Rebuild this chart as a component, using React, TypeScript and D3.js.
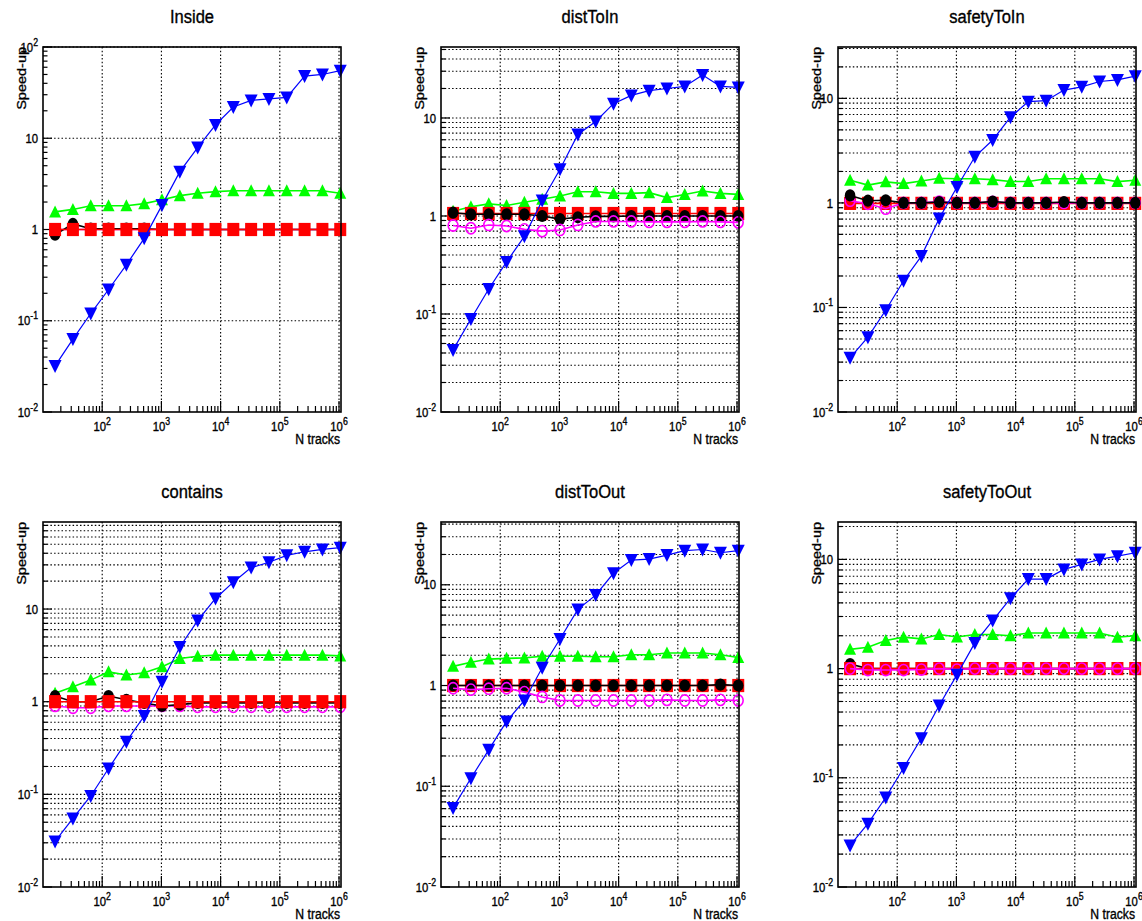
import React, { useEffect, useRef } from "react";
import * as d3 from "d3";

// x values: number of tracks
const nTracks = [16, 32, 64, 128, 256, 512, 1024, 2048, 4096, 8192, 16384, 32768, 65536, 131072, 262144, 524288, 1048576];

const panelNames = ["Inside", "distToIn", "safetyToIn", "contains", "distToOut", "safetyToOut"];
const panelYMax = [100, 53, 31, 87, 42, 22];
const panelMinorGrid = [false, true, true, true, true, true];

const xTickValues = [100, 1000, 10000, 100000, 1000000];
const xTickExps = ["2", "3", "4", "5", "6"];
const yTickValues = [0.01, 0.1, 1, 10, 100];
const yTickBases = ["10", "10", "1", "10", "10"];
const yTickExps = ["-2", "-1", "", "", "2"];

// Inside
const insideBlue = [0.032, 0.063, 0.12, 0.22, 0.41, 0.8, 1.85, 4.3, 7.9, 14, 22, 26, 27, 28, 48, 50, 55];
const insideGreen = [1.56, 1.66, 1.82, 1.82, 1.82, 1.92, 2.12, 2.35, 2.5, 2.6, 2.66, 2.66, 2.66, 2.66, 2.66, 2.66, 2.5];
const insideRed = [1, 1, 1, 1, 1, 1, 1, 1, 1, 1, 1, 1, 1, 1, 1, 1, 1];
const insideBlack = [0.88, 1.15, 1.02, 1.02, 1.02, 1.02, 1, 1, 1, 1, 1, 1, 1, 1, 1, 1, 1];
const insideMagenta = [1, 1, 1, 1, 1, 1, 1, 1, 1, 1, 1, 1, 1, 1, 1, 1, 1];

// distToIn
const distInBlue = [0.043, 0.089, 0.18, 0.34, 0.62, 1.44, 3.0, 6.8, 9.2, 14, 17, 19, 20, 21, 27.5, 21, 20.5];
const distInGreen = [1.12, 1.24, 1.33, 1.28, 1.38, 1.48, 1.6, 1.77, 1.77, 1.7, 1.7, 1.73, 1.54, 1.66, 1.8, 1.7, 1.66];
const distInRed = [1.06, 1.06, 1.06, 1.06, 1.06, 1.06, 1.06, 1.06, 1.06, 1.06, 1.06, 1.06, 1.06, 1.06, 1.06, 1.06, 1.06];
const distInBlack = [1.08, 1.04, 1.04, 1.04, 1.04, 1.0, 0.93, 0.97, 0.99, 0.99, 1.0, 1.0, 1.0, 1.0, 1.0, 1.0, 1.0];
const distInMagenta = [0.8, 0.75, 0.81, 0.79, 0.73, 0.7, 0.72, 0.81, 0.88, 0.88, 0.88, 0.87, 0.87, 0.87, 0.88, 0.87, 0.86];

// safetyToIn
const safeInBlue = [0.033, 0.052, 0.094, 0.18, 0.31, 0.71, 1.42, 2.76, 4.0, 6.6, 9.3, 9.5, 12, 12.9, 14.5, 15, 16.3];
const safeInGreen = [1.65, 1.48, 1.59, 1.53, 1.62, 1.72, 1.7, 1.7, 1.67, 1.6, 1.6, 1.7, 1.7, 1.7, 1.7, 1.6, 1.65];
const safeInRed = [0.99, 0.99, 0.99, 0.99, 0.99, 0.99, 0.99, 0.99, 0.99, 0.99, 0.99, 0.99, 0.99, 0.99, 0.99, 0.99, 0.99];
const safeInBlack = [1.18, 1.05, 1.06, 1.0, 1.0, 1.02, 1.0, 1.0, 1.03, 1.0, 1.0, 1.0, 1.02, 1.0, 1.0, 1.0, 1.0];
const safeInMagenta = [1.05, 0.98, 0.88, 1.0, 1.0, 1.03, 1.0, 1.0, 1.02, 1.0, 1.0, 1.0, 1.0, 1.0, 1.0, 1.0, 1.0];

// contains
const containsBlue = [0.031, 0.055, 0.096, 0.19, 0.37, 0.7, 1.64, 3.9, 7.5, 13, 19.5, 28, 32, 38, 41.5, 44, 46];
const containsGreen = [1.23, 1.45, 1.71, 2.1, 1.94, 2.05, 2.38, 2.93, 3.1, 3.18, 3.18, 3.18, 3.18, 3.18, 3.18, 3.18, 3.12];
const containsRed = [1, 1, 1, 1, 1, 1, 1, 1, 1, 1, 1, 1, 1, 1, 1, 1, 1];
const containsBlack = [1.15, 1.0, 1.0, 1.15, 1.05, 0.97, 0.9, 0.93, 0.97, 0.97, 0.97, 0.97, 0.97, 0.97, 0.97, 0.97, 0.97];
const containsMagenta = [0.9, 0.86, 0.86, 0.9, 0.9, 0.9, 0.9, 0.9, 0.88, 0.88, 0.88, 0.88, 0.88, 0.88, 0.88, 0.88, 0.88];

// distToOut
const distOutBlue = [0.061, 0.12, 0.23, 0.44, 0.71, 1.5, 2.9, 5.7, 7.9, 13, 17.6, 18, 19.7, 21.8, 22.4, 20.8, 21.8];
const distOutGreen = [1.55, 1.7, 1.83, 1.86, 1.88, 1.95, 1.95, 1.95, 1.93, 1.93, 2.02, 2.02, 2.1, 2.1, 2.1, 2.02, 1.9];
const distOutRed = [1, 1, 1, 1, 1, 1, 1, 1, 1, 1, 1, 1, 1, 1, 1, 1, 1];
const distOutBlack = [1, 1, 1, 1, 1, 1, 1, 1, 1, 1, 1, 1, 1, 1, 1, 1.02, 1];
const distOutMagenta = [0.94, 0.91, 0.93, 0.94, 0.86, 0.77, 0.71, 0.71, 0.71, 0.71, 0.71, 0.71, 0.72, 0.71, 0.71, 0.72, 0.71];

// safetyToOut
const safeOutBlue = [0.024, 0.038, 0.066, 0.123, 0.23, 0.46, 0.88, 1.72, 2.75, 4.4, 6.6, 6.6, 8.1, 9.0, 10, 10.7, 11.5];
const safeOutGreen = [1.5, 1.57, 1.81, 1.94, 1.87, 2.05, 1.95, 2.05, 2.05, 2.0, 2.12, 2.12, 2.12, 2.12, 2.12, 1.94, 2.0];
const safeOutRed = [1, 1, 1, 1, 1, 1, 1, 1, 1, 1, 1, 1, 1, 1, 1, 1, 1];
const safeOutBlack = [1.1, 1, 1, 1, 1, 1, 1, 1, 1, 1, 1, 1, 1, 1, 1, 1, 1];
const safeOutMagenta = [1.0, 0.97, 0.97, 0.97, 0.98, 1.0, 0.98, 1.0, 1.0, 1.0, 1.0, 1.0, 1.0, 1.0, 1.0, 1.0, 1.0];

const panelSeries = [
  { blue: insideBlue, green: insideGreen, red: insideRed, black: insideBlack, magenta: insideMagenta },
  { blue: distInBlue, green: distInGreen, red: distInRed, black: distInBlack, magenta: distInMagenta },
  { blue: safeInBlue, green: safeInGreen, red: safeInRed, black: safeInBlack, magenta: safeInMagenta },
  { blue: containsBlue, green: containsGreen, red: containsRed, black: containsBlack, magenta: containsMagenta },
  { blue: distOutBlue, green: distOutGreen, red: distOutRed, black: distOutBlack, magenta: distOutMagenta },
  { blue: safeOutBlue, green: safeOutGreen, red: safeOutRed, black: safeOutBlack, magenta: safeOutMagenta },
];

// order in which the graphs were drawn (last one on top)
const drawOrders = [
  ["green", "magenta", "black", "red", "blue"],
  ["green", "red", "black", "magenta", "blue"],
  ["green", "red", "magenta", "black", "blue"],
  ["green", "magenta", "black", "red", "blue"],
  ["green", "red", "black", "magenta", "blue"],
  ["green", "black", "red", "magenta", "blue"],
];

const styles: any = {
  blue: { color: "#0000ff", marker: "tdown", lw: 1.2 },
  green: { color: "#00ff00", marker: "tup", lw: 1.6 },
  red: { color: "#ff0000", marker: "square", lw: 1.6 },
  black: { color: "#000000", marker: "circle", lw: 1.6 },
  magenta: { color: "#ff00ff", marker: "ocircle", lw: 1.6 },
};

const W = 1142, H = 921;
const colLeft = [43, 441, 838];
const frameW = 298;
const rowTop = [47, 522];
const frameH = 365;
const SX = 0.87; // horizontal squeeze of the original picture
const FONT = "'Liberation Sans', Arial, Helvetica, sans-serif";

function App() {
  const ref = useRef<SVGSVGElement>(null);

  useEffect(() => {
    const svg = d3.select(ref.current);
    svg.selectAll("*").remove();
    svg.append("rect").attr("width", W).attr("height", H).attr("fill", "#fff");

    panelNames.forEach((name, p) => {
      const x0 = colLeft[p % 3];
      const y0 = rowTop[Math.floor(p / 3)];
      const x1 = x0 + frameW;
      const y1 = y0 + frameH;
      const g = svg.append("g");

      const x = d3.scaleLog().domain([10, 1.08e6]).range([x0, x1]);
      const y = d3.scaleLog().domain([0.01, panelYMax[p]]).range([y1, y0]);

      // minor/major tick values
      const yMinor: number[] = [];
      const yMajor: number[] = [];
      for (let e = -2; e <= 2; e++) {
        for (let m = 1; m <= 9; m++) {
          const v = m * Math.pow(10, e);
          if (v > panelYMax[p] * 1.0001) continue;
          if (m === 1) yMajor.push(v);
          else yMinor.push(v);
        }
      }
      const xMinor: number[] = [];
      for (let e = 1; e <= 5; e++) {
        for (let m = 2; m <= 9; m++) xMinor.push(m * Math.pow(10, e));
      }

      // grid
      const grid = g.append("g").attr("stroke", "#000").attr("stroke-width", 1.1).attr("stroke-dasharray", "1.5,2.2");
      xTickValues.forEach((v) => {
        grid.append("line").attr("x1", x(v)).attr("x2", x(v)).attr("y1", y0).attr("y2", y1);
      });
      const yGridVals = panelMinorGrid[p] ? yMajor.concat(yMinor) : yMajor;
      yGridVals.forEach((v) => {
        if (v <= 0.01) return;
        grid.append("line").attr("x1", x0).attr("x2", x1).attr("y1", y(v)).attr("y2", y(v));
      });

      // ticks
      const ticks = g.append("g").attr("stroke", "#000").attr("stroke-width", 1.2);
      yMajor.forEach((v) => ticks.append("line").attr("x1", x0).attr("x2", x0 + 9).attr("y1", y(v)).attr("y2", y(v)));
      yMinor.forEach((v) => ticks.append("line").attr("x1", x0).attr("x2", x0 + 4.5).attr("y1", y(v)).attr("y2", y(v)));
      xTickValues.forEach((v) => ticks.append("line").attr("x1", x(v)).attr("x2", x(v)).attr("y1", y1).attr("y2", y1 - 11));
      xMinor.forEach((v) => ticks.append("line").attr("x1", x(v)).attr("x2", x(v)).attr("y1", y1).attr("y2", y1 - 6));

      // series
      const sd = panelSeries[p] as any;
      drawOrders[p].forEach((key) => {
        const st = styles[key];
        const vals: number[] = sd[key];
        const pts = nTracks.map((n, i) => [x(n), y(vals[i])] as [number, number]);
        g.append("path")
          .attr("d", d3.line()(pts))
          .attr("fill", "none")
          .attr("stroke", st.color)
          .attr("stroke-width", st.lw);
        const mk = g.append("g");
        pts.forEach(([px, py]) => {
          if (st.marker === "tdown") {
            mk.append("path").attr("d", `M${px - 6.5},${py - 6}L${px + 6.5},${py - 6}L${px},${py + 7}Z`).attr("fill", st.color);
          } else if (st.marker === "tup") {
            mk.append("path").attr("d", `M${px - 6},${py + 5.5}L${px + 6},${py + 5.5}L${px},${py - 6.5}Z`).attr("fill", st.color);
          } else if (st.marker === "square") {
            mk.append("rect").attr("x", px - 6).attr("y", py - 6.6).attr("width", 12).attr("height", 13.2).attr("fill", st.color);
          } else if (st.marker === "circle") {
            mk.append("ellipse").attr("cx", px).attr("cy", py).attr("rx", 5.3).attr("ry", 6.1).attr("fill", st.color);
          } else {
            mk.append("ellipse").attr("cx", px).attr("cy", py).attr("rx", 4.9).attr("ry", 5.6)
              .attr("fill", "none").attr("stroke", st.color).attr("stroke-width", 1.6);
          }
        });
      });

      // frame
      g.append("rect").attr("x", x0).attr("y", y0).attr("width", frameW).attr("height", frameH)
        .attr("fill", "none").attr("stroke", "#000").attr("stroke-width", 1.6);

      // labels
      const txt = (tx: number, ty: number, anchor: string, size: number, rot = 0) =>
        g.append("text")
          .attr("transform", `translate(${tx},${ty}) scale(${SX},1)` + (rot ? ` rotate(${rot})` : ""))
          .attr("text-anchor", anchor)
          .attr("font-family", FONT)
          .attr("font-size", size)
          .attr("fill", "#000")
          .attr("stroke", "#000")
          .attr("stroke-width", 0.35);

      txt((x0 + x1) / 2, y0 - 24, "middle", 19).text(name);
      txt(x1 - 1, y1 + 31.5, "end", 14).text("N tracks");
      txt(x0 - 17, y0, "end", 14.5, -90).text("Speed-up");

      xTickValues.forEach((v, i) => {
        const t = txt(x(v), y1 + 19, "middle", 13);
        t.append("tspan").text("10");
        t.append("tspan").attr("dy", -6).attr("font-size", 10).text(xTickExps[i]);
      });
      yTickValues.forEach((v, i) => {
        if (v > panelYMax[p] * 1.0001) return;
        const t = txt(x0 - 5, y(v) + 4.7, "end", 13);
        t.append("tspan").text(yTickBases[i]);
        if (yTickExps[i]) t.append("tspan").attr("dy", -6).attr("font-size", 10).text(yTickExps[i]);
      });
    });
  }, []);

  return (
    <svg
      ref={ref}
      width={W}
      height={H}
      style={{ position: "absolute", left: 0, top: 0, background: "#fff" }}
    />
  );
}

export default App;
